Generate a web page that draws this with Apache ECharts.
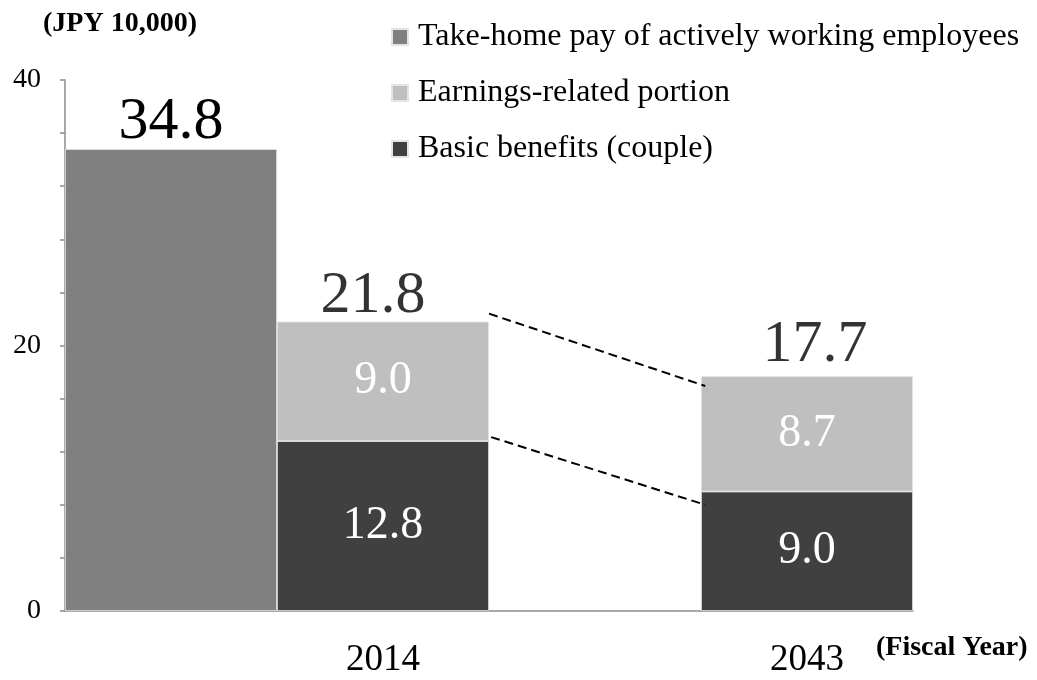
<!DOCTYPE html>
<html>
<head>
<meta charset="utf-8">
<script src="https://cdn.jsdelivr.net/npm/echarts@6/dist/echarts.min.js"></script>
<style>
  html, body { margin: 0; padding: 0; background: #fff; }
  #chart { width: 1037px; height: 680px; }
</style>
</head>
<body>
<div id="chart"></div>
<script>
// Data
const slots = ['', '2014', '', '2043'];
const takeHome = [34.8, '-', '-', '-'];
const basic = ['-', 12.8, '-', 9.0];
const earnings = ['-', 9.0, '-', 8.7];
const totals = [['2014', 21.8], ['2043', 17.7]];
// dashed connectors, in (slot position, value) units
const upperLink = [[2.0, 22.4], [3.02, 16.95]];
const lowerLink = [[2.01, 13.1], [3.02, 8.0]];

const FONT = '"Liberation Serif", "Times New Roman", serif';
const names = ['Take-home pay of actively working employees', 'Earnings-related portion', 'Basic benefits (couple)'];

// small nudges of the total labels, as in the original
const totalLabelShift = [[-10, 5], [8, -1]];

const chart = echarts.init(document.getElementById('chart'));

const innerLabel = {
    show: true,
    position: 'inside',
    color: '#fff',
    fontFamily: FONT,
    fontSize: 46,
    formatter: p => p.value.toFixed(1),
};

const dashed = {
    color: '#000',
    width: 2,
    type: [9, 5],
};

const barBorder = { borderColor: '#e4e4e4', borderWidth: 0.8 };

chart.setOption({
    animation: false,
    backgroundColor: '#fff',
    textStyle: { fontFamily: FONT },
    grid: { left: 65, right: 124, top: 80, bottom: 69 },
    legend: {
        data: names,
        orient: 'vertical',
        left: 391,
        top: 21,
        padding: 0,
        itemWidth: 16,
        itemHeight: 16,
        itemGap: 24,
        icon: 'rect',
        textStyle: {
            fontFamily: FONT,
            fontSize: 32,
            color: '#000',
            padding: [0, 0, 0, 5],
        },
    },
    xAxis: [
        {
            type: 'category',
            data: slots,
            axisLine: { lineStyle: { color: '#8c8c8c', width: 1.5 } },
            axisTick: { show: false },
            axisLabel: {
                color: '#000',
                fontFamily: FONT,
                fontSize: 37,
                margin: 31,
                interval: 0,
            },
        },
        {
            type: 'value',
            min: 0,
            max: 4,
            show: false,
        },
    ],
    yAxis: {
        type: 'value',
        min: 0,
        max: 40,
        interval: 20,
        axisLine: { show: true, lineStyle: { color: '#8c8c8c', width: 1.5 } },
        axisTick: { show: true, length: 5, lineStyle: { color: '#8c8c8c', width: 1.5 } },
        minorTick: { show: true, splitNumber: 5, length: 5, lineStyle: { color: '#8c8c8c', width: 1.5 } },
        splitLine: { show: false },
        axisLabel: {
            color: '#000',
            fontFamily: FONT,
            fontSize: 28,
            margin: 24,
        },
    },
    graphic: [
        {
            type: 'text',
            left: 43,
            top: 10,
            style: {
                text: '(JPY 10,000)',
                font: 'bold 28px ' + FONT,
                fill: '#000',
            },
        },
        {
            type: 'text',
            left: 876,
            top: 634,
            style: {
                text: '(Fiscal Year)',
                font: 'bold 28px ' + FONT,
                fill: '#000',
            },
        },
    ],
    series: [
        {
            name: names[0],
            type: 'bar',
            data: takeHome,
            barWidth: '100%',
            barGap: '-100%',
            itemStyle: Object.assign({ color: '#808080' }, barBorder),
            label: {
                show: true,
                position: 'top',
                distance: 0,
                offset: [0, 3],
                color: '#000',
                fontFamily: FONT,
                fontSize: 60,
                formatter: p => p.value.toFixed(1),
            },
        },
        {
            name: names[2],
            type: 'bar',
            stack: 'pension',
            data: basic,
            barWidth: '100%',
            barGap: '-100%',
            itemStyle: Object.assign({ color: '#404040' }, barBorder),
            label: innerLabel,
        },
        {
            name: names[1],
            type: 'bar',
            stack: 'pension',
            data: earnings,
            barWidth: '100%',
            barGap: '-100%',
            itemStyle: Object.assign({ color: '#bfbfbf' }, barBorder),
            label: innerLabel,
        },
        {
            name: 'total',
            type: 'scatter',
            data: totals.map((d, i) => ({ value: d, label: { offset: totalLabelShift[i] } })),
            symbolSize: 0,
            silent: true,
            label: {
                show: true,
                position: 'top',
                distance: 0,
                color: '#000',
                fontFamily: FONT,
                fontSize: 60,
                formatter: p => p.value[1].toFixed(1),
            },
        },
        {
            name: 'upperLink',
            type: 'line',
            xAxisIndex: 1,
            data: upperLink,
            symbol: 'none',
            silent: true,
            lineStyle: dashed,
        },
        {
            name: 'lowerLink',
            type: 'line',
            xAxisIndex: 1,
            data: lowerLink,
            symbol: 'none',
            silent: true,
            lineStyle: dashed,
        },
    ],
});

window.addEventListener('resize', () => chart.resize());
</script>
</body>
</html>
